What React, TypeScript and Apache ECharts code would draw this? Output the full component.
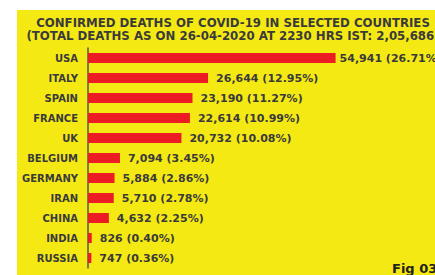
import React, { useEffect, useRef } from "react";
import * as echarts from "echarts";

const countries = ["USA", "ITALY", "SPAIN", "FRANCE", "UK", "BELGIUM", "GERMANY", "IRAN", "CHINA", "INDIA", "RUSSIA"];
const deaths = [54941, 26644, 23190, 22614, 20732, 7094, 5884, 5710, 4632, 826, 747];
const shares = ["26.71%", "12.95%", "11.27%", "10.99%", "10.08%", "3.45%", "2.86%", "2.78%", "2.25%", "0.40%", "0.36%"];
const titleLines = [
  "CONFIRMED DEATHS OF COVID-19 IN SELECTED COUNTRIES",
  "(TOTAL DEATHS AS ON 26-04-2020 AT 2230 HRS IST: 2,05,686)",
];

const FONT = "DejaVu Sans";
const TEXT = "#3a3a3a";

export default function App() {
  const ref = useRef<HTMLDivElement>(null);
  useEffect(() => {
    if (!ref.current) return;
    const chart = echarts.init(ref.current, null, { renderer: "svg" });
    chart.setOption({
      animation: false,
      backgroundColor: "#ffffff",
      graphic: [
        {
          type: "rect",
          z: -10,
          silent: true,
          shape: { x: 17, y: 10, width: 420, height: 270 },
          style: { fill: "#F5E914" },
        },
        {
          type: "text",
          left: 392,
          top: 262,
          style: { text: "Fig 03", font: `bold 13px "${FONT}"`, fill: "#222" },
        },
      ],
      title: {
        text: titleLines.join("\n"),
        left: 228,
        top: 11,
        textAlign: "center",
        textStyle: {
          fontFamily: FONT,
          fontWeight: "bold",
          fontSize: 11.75,
          lineHeight: 13.5,
          color: TEXT,
        },
      },
      grid: { left: 88, right: 0, top: 48, height: 220, containLabel: false },
      xAxis: {
        type: "value",
        min: 0,
        max: 77000,
        show: false,
      },
      yAxis: {
        type: "category",
        data: countries,
        inverse: true,
        axisLine: { show: true, lineStyle: { color: "#555", width: 1.5 } },
        axisTick: { show: false },
        axisLabel: {
          margin: 10,
          fontFamily: FONT,
          fontWeight: "bold",
          fontSize: 10,
          color: TEXT,
        },
      },
      series: [
        {
          type: "bar",
          data: deaths.map((v, i) =>
            i === 0 ? { value: v, label: { distance: 4 } } : v
          ),
          barWidth: 10,
          itemStyle: { color: "#EC1C24" },
          label: {
            show: true,
            position: "right",
            distance: 8,
            fontFamily: FONT,
            fontWeight: "bold",
            fontSize: 11,
            color: TEXT,
            formatter: (p: any) =>
              `${deaths[p.dataIndex].toLocaleString("en-US")} (${shares[p.dataIndex]})`,
          },
        },
      ],
    });
    return () => chart.dispose();
  }, []);
  return (
    <div
      ref={ref}
      style={{ position: "fixed", left: 0, top: 0, width: 435, height: 275 }}
    />
  );
}
